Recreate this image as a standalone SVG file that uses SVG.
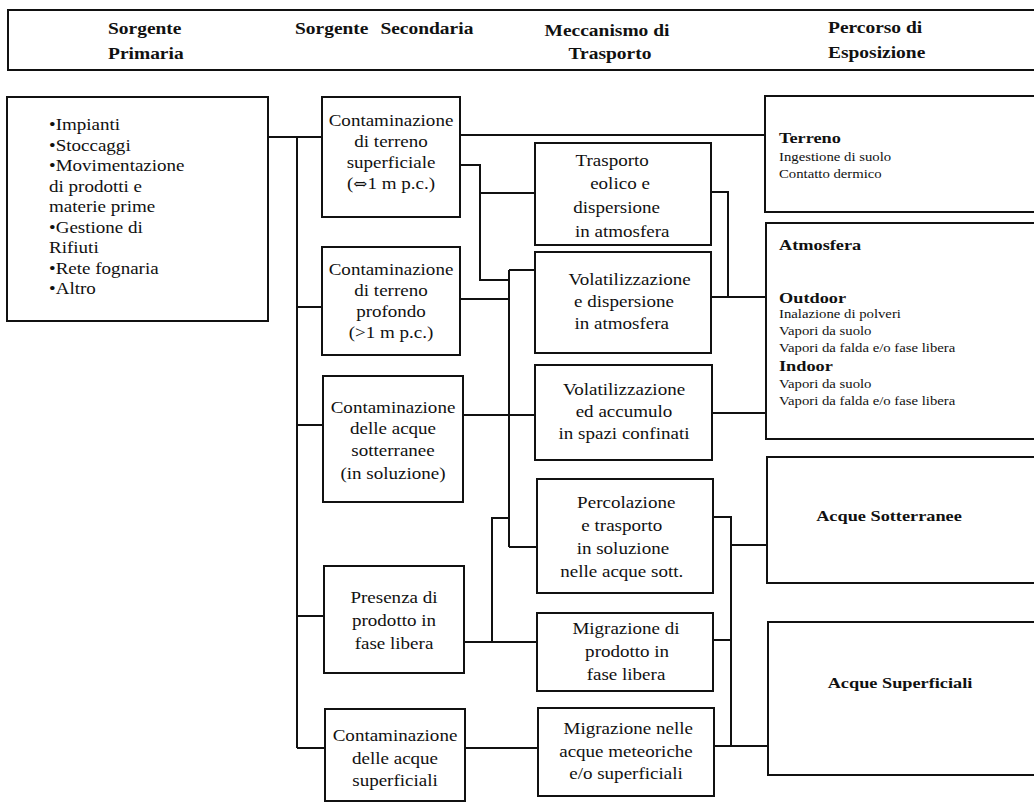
<svg xmlns="http://www.w3.org/2000/svg" width="1034" height="803" viewBox="0 0 1034 803">
<style>
text{font-family:"Liberation Serif","Times New Roman",serif;fill:#111;font-size:17px}
.c{text-anchor:middle}
.h{font-weight:bold;font-size:16.5px}
.b{font-weight:bold;font-size:15.5px}
.s{font-size:12.5px}
.sym{font-family:"DejaVu Serif","DejaVu Sans",serif}
.box{fill:#fff;stroke:#111;stroke-width:2}
.ln{fill:none;stroke:#111;stroke-width:2}
</style>
<rect width="1034" height="803" fill="#fff"/>
<g id="header">
<rect class="box" x="8" y="10" width="1040" height="60"/>
<g transform="translate(108,0) scale(1.18,1)"><text class="h" x="0" y="34">Sorgente</text><text class="h" x="0" y="59">Primaria</text></g>
<g transform="translate(295,0) scale(1.18,1)"><text class="h" x="0" y="34" style="word-spacing:6px">Sorgente Secondaria</text></g>
<g transform="translate(607,0) scale(1.18,1)"><text class="h c" x="0" y="36">Meccanismo di</text><text class="h c" x="2.5" y="59">Trasporto</text></g>
<g transform="translate(828,0) scale(1.18,1)"><text class="h" x="0" y="33">Percorso di</text><text class="h" x="0" y="58">Esposizione</text></g>
</g>
<g id="connectors" class="ln">
<path class="ln" d="M268,137H322M297,137V748M297,307H322M297,425H323M297,616H324M297,748H325"/>
<path class="ln" d="M460,135H765"/>
<path class="ln" d="M460,165H480V280H509M480,193H535"/>
<path class="ln" d="M509,270V547M509,270H535M509,547H537M460,299H509"/>
<path class="ln" d="M463,415H535"/>
<path class="ln" d="M464,642H537M492,642V518H509"/>
<path class="ln" d="M465,748H538"/>
<path class="ln" d="M711,192H728V297M711,297H765"/>
<path class="ln" d="M712,413H765"/>
<path class="ln" d="M713,517H731V745M713,640H731M731,545H767"/>
<path class="ln" d="M714,746H768"/>
</g>
<g id="n-primaria">
<rect class="box" x="7" y="97" width="261" height="224"/>
<g transform="translate(49,0) scale(1.12,1)">
<text x="0" y="130">•Impianti</text>
<text x="0" y="151">•Stoccaggi</text>
<text x="0" y="171">•Movimentazione</text>
<text x="0" y="192">di prodotti e</text>
<text x="0" y="212">materie prime</text>
<text x="0" y="233">•Gestione di</text>
<text x="0" y="253">Rifiuti</text>
<text x="0" y="274">•Rete fognaria</text>
<text x="0" y="294">•Altro</text>
</g>
</g>
<g id="n-terreno-sup">
<rect class="box" x="322" y="97" width="138" height="120"/>
<g transform="translate(391,0) scale(1.12,1)">
<text class="c" x="0" y="126">Contaminazione</text>
<text class="c" x="0" y="147">di terreno</text>
<text class="c" x="0" y="168">superficiale</text>
<text class="c" x="0" y="189">(<tspan class="sym" font-size="15">⇔</tspan>1 m p.c.)</text>
</g>
</g>
<g id="n-terreno-prof">
<rect class="box" x="322" y="247" width="138" height="108"/>
<g transform="translate(391,0) scale(1.12,1)">
<text class="c" x="0" y="275">Contaminazione</text>
<text class="c" x="0" y="296">di terreno</text>
<text class="c" x="0" y="317">profondo</text>
<text class="c" x="0" y="338">(&gt;1 m p.c.)</text>
</g>
</g>
<g id="n-acque-sott">
<rect class="box" x="323" y="376" width="140" height="126"/>
<g transform="translate(393,0) scale(1.12,1)">
<text class="c" x="0" y="413">Contaminazione</text>
<text class="c" x="0" y="434">delle acque</text>
<text class="c" x="0" y="456">sotterranee</text>
<text class="c" x="0" y="479">(in soluzione)</text>
</g>
</g>
<g id="n-fase-libera">
<rect class="box" x="324" y="566" width="140" height="107"/>
<g transform="translate(394,0) scale(1.12,1)">
<text class="c" x="0" y="603">Presenza di</text>
<text class="c" x="0" y="626">prodotto in</text>
<text class="c" x="0" y="649">fase libera</text>
</g>
</g>
<g id="n-acque-sup">
<rect class="box" x="325" y="709" width="140" height="92"/>
<g transform="translate(395,0) scale(1.12,1)">
<text class="c" x="0" y="741">Contaminazione</text>
<text class="c" x="0" y="764">delle acque</text>
<text class="c" x="0" y="786">superficiali</text>
</g>
</g>
<g id="n-eolico">
<rect class="box" x="535" y="143" width="176" height="102"/>
<g transform="translate(620,0) scale(1.12,1)">
<text class="c" x="-7" y="166">Trasporto</text>
<text class="c" x="0" y="189">eolico e</text>
<text class="c" x="-3" y="213">dispersione</text>
<text class="c" x="2" y="237">in atmosfera</text>
</g>
</g>
<g id="n-volat-disp">
<rect class="box" x="535" y="252" width="176" height="101"/>
<g transform="translate(624,0) scale(1.12,1)">
<text class="c" x="5" y="285">Volatilizzazione</text>
<text class="c" x="0" y="307">e dispersione</text>
<text class="c" x="-2" y="329">in atmosfera</text>
</g>
</g>
<g id="n-volat-acc">
<rect class="box" x="535" y="365" width="177" height="95"/>
<g transform="translate(624,0) scale(1.12,1)">
<text class="c" x="0" y="395">Volatilizzazione</text>
<text class="c" x="0" y="417">ed accumulo</text>
<text class="c" x="0" y="439">in spazi confinati</text>
</g>
</g>
<g id="n-percolazione">
<rect class="box" x="537" y="479" width="176" height="114"/>
<g transform="translate(624,0) scale(1.12,1)">
<text class="c" x="2" y="508">Percolazione</text>
<text class="c" x="-2" y="531">e trasporto</text>
<text class="c" x="-1" y="554">in soluzione</text>
<text class="c" x="-2" y="577">nelle acque sott.</text>
</g>
</g>
<g id="n-migr-fase">
<rect class="box" x="537" y="613" width="176" height="78"/>
<g transform="translate(626,0) scale(1.12,1)">
<text class="c" x="0" y="634">Migrazione di</text>
<text class="c" x="1" y="657">prodotto in</text>
<text class="c" x="0" y="680">fase libera</text>
</g>
</g>
<g id="n-migr-acque">
<rect class="box" x="538" y="708" width="176" height="88"/>
<g transform="translate(626,0) scale(1.12,1)">
<text class="c" x="2" y="734">Migrazione nelle</text>
<text class="c" x="0" y="757">acque meteoriche</text>
<text class="c" x="0" y="779">e/o superficiali</text>
</g>
</g>
<g id="n-terreno">
<rect class="box" x="765" y="96" width="290" height="116"/>
<g transform="translate(779,0) scale(1.18,1)">
<text class="b" x="0" y="143">Terreno</text>
<text class="s" x="0" y="161">Ingestione di suolo</text>
<text class="s" x="0" y="178">Contatto dermico</text>
</g>
</g>
<g id="n-atmosfera">
<rect class="box" x="766" y="223" width="290" height="216"/>
<g transform="translate(779,0) scale(1.18,1)">
<text class="b" x="0" y="250">Atmosfera</text>
<text class="b" x="0" y="303">Outdoor</text>
<text class="s" x="0" y="318">Inalazione di polveri</text>
<text class="s" x="0" y="335">Vapori da suolo</text>
<text class="s" x="0" y="352">Vapori da falda e/o fase libera</text>
<text class="b" x="0" y="371">Indoor</text>
<text class="s" x="0" y="388">Vapori da suolo</text>
<text class="s" x="0" y="405">Vapori da falda e/o fase libera</text>
</g>
</g>
<g id="n-acque-sotterranee">
<rect class="box" x="767" y="457" width="290" height="126"/>
<g transform="translate(889,0) scale(1.18,1)"><text class="b c" x="0" y="521">Acque Sotterranee</text></g>
</g>
<g id="n-acque-superficiali">
<rect class="box" x="768" y="622" width="290" height="153"/>
<g transform="translate(900,0) scale(1.18,1)"><text class="b c" x="0" y="688">Acque Superficiali</text></g>
</g>
</svg>
